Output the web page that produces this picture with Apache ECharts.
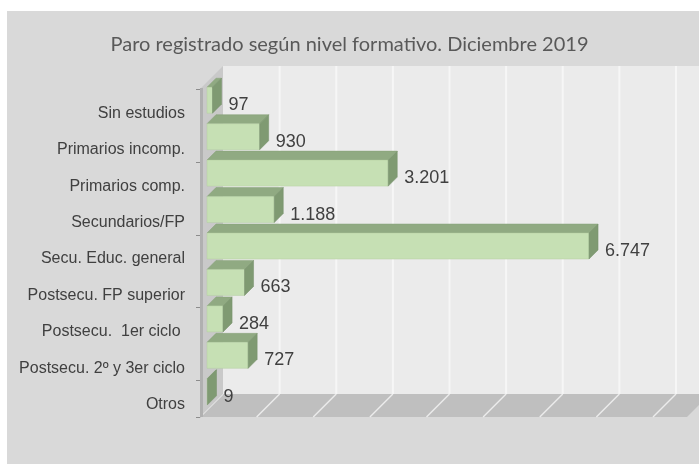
<!DOCTYPE html>
<html>
<head>
<meta charset="utf-8">
<script src="https://cdn.jsdelivr.net/npm/echarts@6/dist/echarts.min.js"></script>
<style>
  html, body { margin: 0; padding: 0; background: #fff; }
  #chart { width: 699px; height: 464px; }
</style>
</head>
<body>
<div id="chart"></div>
<script>
/* paro registrado - barras 3D estilo excel */

var categories = ['Sin estudios', 'Primarios incomp.', 'Primarios comp.', 'Secundarios/FP',
  'Secu. Educ. general', 'Postsecu. FP superior', 'Postsecu.  1er ciclo ', 'Postsecu. 2º y 3er ciclo', 'Otros'];
var values = [97, 930, 3201, 1188, 6747, 663, 284, 727, 9];
var xTicks = [0, 1000, 2000, 3000, 4000, 5000, 6000, 7000, 8000];

var WALL = 23;      // profundidad de la caja
var BAR_Z = 7;      // donde empieza la barra
var BAR_D = 9;      // grosor de la barra
var BAR_H = 13;     // media altura de la cara frontal

function fmt(v) {
  return String(v).replace(/\B(?=(\d{3})+(?!\d))/g, '.');
}

var myChart = echarts.init(document.getElementById('chart'));

function renderBox(params, api) {
  var p0 = api.coord([0, 0]);
  var band = api.size([0, 1])[1];
  var x0 = p0[0];
  var top = p0[1] - band / 2;
  var bottom = top + band * categories.length;
  var xEnd = api.coord([xTicks[xTicks.length - 1], 0])[0];
  var kids = [];
  // pared del fondo
  kids.push({ type: 'polygon', shape: { points: [[x0 + WALL, top - WALL], [720, top - WALL], [720, bottom - WALL], [x0 + WALL, bottom - WALL]] },
    style: { fill: '#ebebeb' } });
  xTicks.forEach(function (t) {
    if (t === 0) return;
    var x = api.coord([t, 0])[0] + WALL;
    kids.push({ type: 'line', shape: { x1: x, y1: top - WALL, x2: x, y2: bottom - WALL }, style: { stroke: '#f6f6f6', lineWidth: 2 } });
  });
  // suelo
  kids.push({ type: 'polygon', shape: { points: [[x0, bottom], [x0 + WALL, bottom - WALL], [xEnd + WALL + 34, bottom - WALL], [xEnd + 34, bottom]] },
    style: { fill: '#bfbfbf' } });
  xTicks.forEach(function (t) {
    var x = api.coord([t, 0])[0];
    kids.push({ type: 'line', shape: { x1: x, y1: bottom, x2: x + WALL, y2: bottom - WALL }, style: { stroke: '#ececec', lineWidth: 1.5 } });
  });
  // pared izquierda
  kids.push({ type: 'polygon', shape: { points: [[x0, top], [x0 + WALL, top - WALL], [x0 + WALL, bottom - WALL], [x0, bottom]] },
    style: { fill: '#c9c9c9' } });
  kids.push({ type: 'line', shape: { x1: x0 + 1.5, y1: top - 1, x2: x0 + 1.5, y2: bottom }, style: { stroke: '#b0b0b0', lineWidth: 3 } });
  return { type: 'group', children: kids };
}

function renderBar(params, api) {
  var i = api.value(0);
  var v = api.value(1);
  var a = api.coord([0, i]);
  var b = api.coord([v, i]);
  var xa = a[0] + BAR_Z, xb = b[0] + BAR_Z;
  var cy = a[1] - BAR_Z;
  var yt = cy - BAR_H, yb = cy + BAR_H;
  var d = BAR_D;
  return {
    type: 'group',
    children: [
      { type: 'polygon', shape: { points: [[xa, yt], [xb, yt], [xb + d, yt - d], [xa + d, yt - d]] },
        style: { fill: '#90aa82', stroke: '#86a078', lineWidth: 0.5 } },
      { type: 'rect', shape: { x: xa, y: yt, width: xb - xa, height: yb - yt },
        style: { fill: '#c6e0b4', stroke: '#b4cfa2', lineWidth: 0.5 } },
      { type: 'polygon', shape: { points: [[xb, yt], [xb + d, yt - d], [xb + d, yb - d], [xb, yb]] },
        style: { fill: '#7f9a72', stroke: '#76916a', lineWidth: 0.5 } },
      { type: 'text', x: xb + 16, y: cy + 5,
        style: { text: fmt(v), fill: '#404040', fontSize: 18, fontFamily: 'Liberation Sans', align: 'left', verticalAlign: 'middle' } }
    ]
  };
}

var option = {
  backgroundColor: '#ffffff',
  animation: false,
  graphic: [
    { type: 'rect', left: 7, top: 11, shape: { width: 692, height: 453 }, style: { fill: '#d9d9d9' }, z: -10 }
  ],
  title: {
    text: 'Paro registrado según nivel formativo. Diciembre 2019',
    left: 'center',
    top: 30,
    textStyle: { fontFamily: 'Lato', fontSize: 20, fontWeight: 'normal', color: '#595959' }
  },
  grid: { left: 200, top: 89, width: 453, height: 328 },
  xAxis: {
    type: 'value', min: 0, max: 8000, interval: 1000,
    show: false
  },
  yAxis: {
    type: 'category',
    inverse: true,
    data: categories,
    offset: 3,
    axisLine: { show: true, lineStyle: { color: '#8c8c8c', width: 1 } },
    axisTick: { show: true, interval: 1, length: 4, lineStyle: { color: '#8c8c8c' } },
    axisLabel: { interval: 0, margin: 12, fontSize: 16, fontFamily: 'Liberation Sans', color: '#404040',
      verticalAlign: 'top', lineHeight: 12 }
  },
  series: [
    {
      type: 'custom',
      renderItem: renderBox,
      data: [[0, 0]],
      encode: { x: 0, y: 1 },
      silent: true,
      z: 1
    },
    {
      type: 'custom',
      renderItem: renderBar,
      data: values.map(function (v, i) { return [i, v]; }),
      encode: { x: 1, y: 0 },
      z: 2
    }
  ]
};

myChart.setOption(option);
</script>
</body>
</html>
